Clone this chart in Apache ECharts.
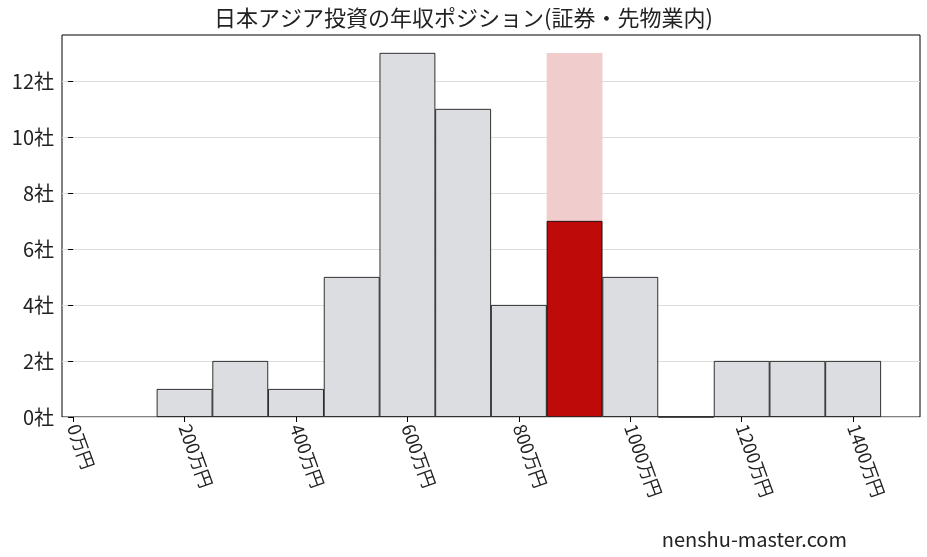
<!DOCTYPE html>
<html><head><meta charset="utf-8">
<script src="https://cdn.jsdelivr.net/npm/echarts@6/dist/echarts.min.js"></script>
<style>html,body{margin:0;padding:0;background:#fff}#c{width:927px;height:557px}</style>
</head><body><div id="c"></div>
<script>
const binCenters = [200,300,400,500,600,700,800,900,1000,1100,1200,1300,1400];
const counts = [1,2,1,5,13,11,4,7,5,0,2,2,2];
const highlightBin = 900;
const highlightMax = 13;
const xTicks = [0,200,400,600,800,1000,1200,1400];
const yTicks = [0,2,4,6,8,10,12];
const FONT = '"Noto Sans CJK JP", "Noto Serif CJK JP", serif';

const chart = echarts.init(document.getElementById('c'));
const bw = 55.75;
chart.setOption({
  animation:false,
  title:{text:'日本アジア投資の年収ポジション(証券・先物業内)',left:'center',top:2,
    textStyle:{fontFamily:FONT,fontSize:22,fontWeight:'normal',color:'#222'}},
  graphic:[{type:'text',right:80,bottom:8,style:{text:'nenshu-master.com',font:'20px '+FONT,fill:'#222'}}],
  grid:{left:62,right:7,top:35,bottom:140,show:true,borderColor:'#000',borderWidth:1,backgroundColor:'transparent'},
  xAxis:{type:'value',min:-20,max:1520,
    axisLine:{show:false},splitLine:{show:false},
    axisTick:{show:true,customValues:xTicks,lineStyle:{color:'#000'}},
    axisLabel:{customValues:xTicks,rotate:-70,fontFamily:FONT,fontSize:18,color:'#222',
      formatter:v=>v+'万円'}},
  yAxis:{type:'value',min:0,max:13.64,interval:2,
    axisLine:{show:false},
    axisTick:{show:true,customValues:yTicks,lineStyle:{color:'#000'}},
    axisLabel:{customValues:yTicks,fontFamily:FONT,fontSize:20,color:'#222',formatter:v=>v+'社'},
    splitLine:{show:true,lineStyle:{color:'#ddd'}}},
  series:[
    {type:'bar',barWidth:bw,z:1,silent:true,
      data:[[highlightBin,highlightMax]],itemStyle:{color:'#f0cccc'}},
    {type:'bar',barWidth:bw,barGap:'-100%',z:2,
      data:binCenters.map((x,i)=>({value:[x,counts[i]],
        itemStyle:{color:x===highlightBin?'#bf0a0a':'#dcdde0',borderColor:'#000',borderWidth:0.8}}))}
  ]
});
</script></body></html>
